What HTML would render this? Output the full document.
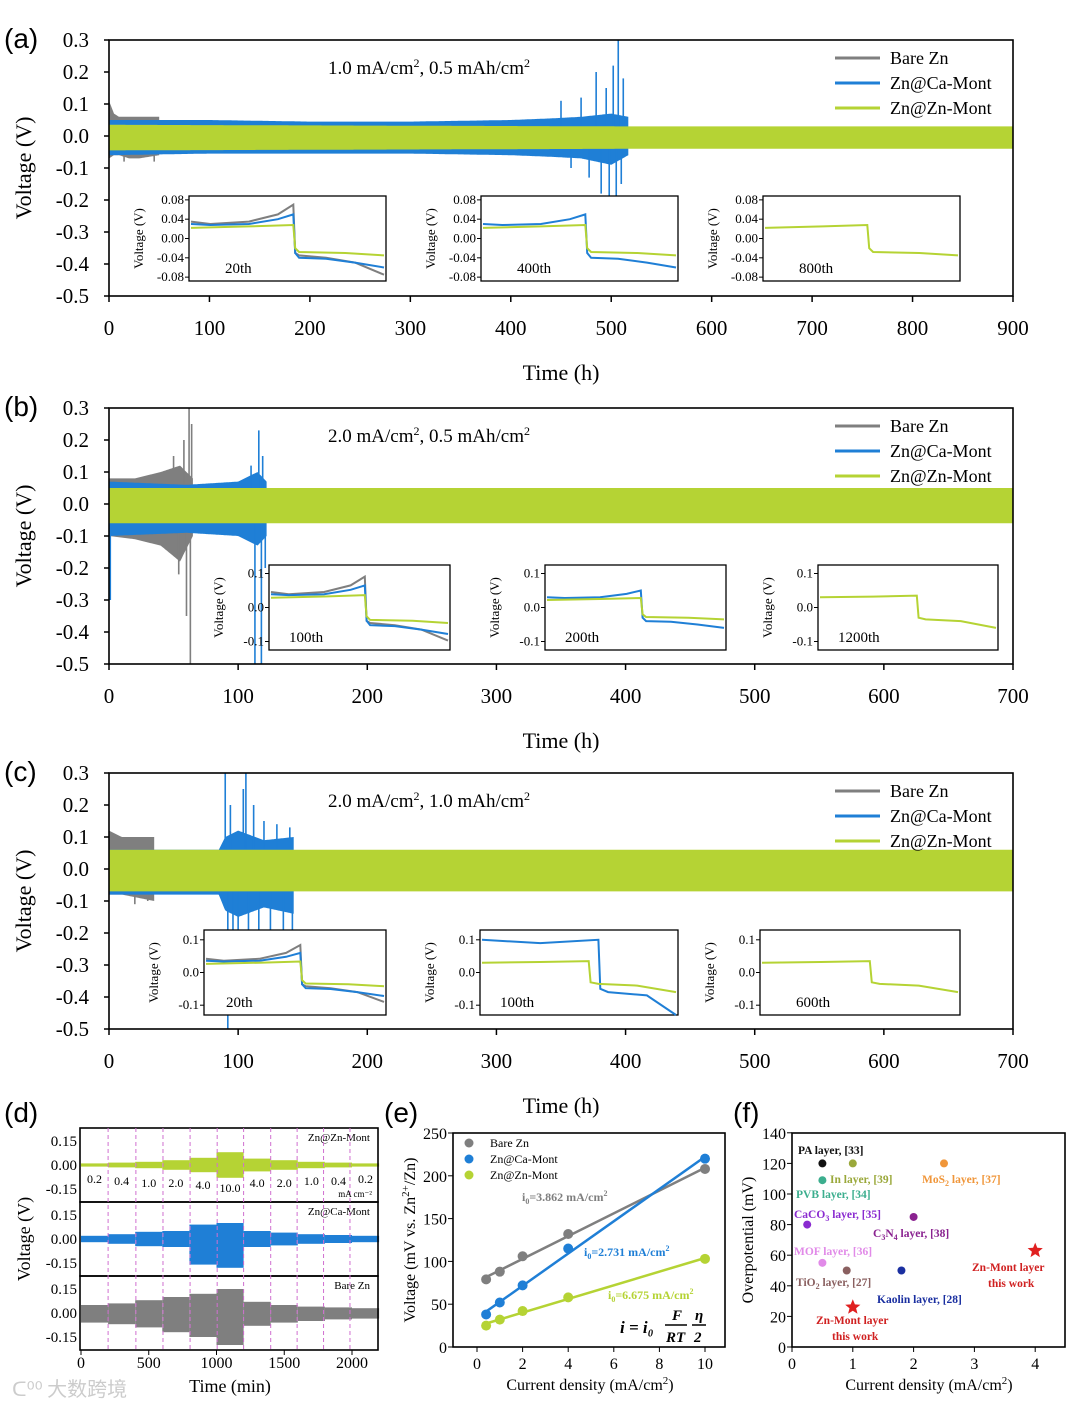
<!DOCTYPE html>
<html><head><meta charset="utf-8">
<style>
body{margin:0;background:#fff;}
svg{display:block;font-family:"Liberation Serif",serif;}
.lab{font-family:"Liberation Sans",sans-serif;font-size:28px;}
</style></head>
<body>
<svg id="fig" width="1080" height="1409" viewBox="0 0 1080 1409" xmlns="http://www.w3.org/2000/svg"></svg>
<script>
// ---------- data ----------
const GRAY='#7f7f7f', BLUE='#1f7fd6', GREEN='#b5d334';
// panel a envelopes (time h, upper V, lower V)
const aGrayT=[0,5,10,20,30,50], aGrayUp=[0.11,0.07,0.06,0.06,0.06,0.06], aGrayLo=[-0.07,-0.06,-0.06,-0.07,-0.07,-0.06];
const aGraySpT=[15,45], aGraySpV=[-0.08,-0.08];
const aBlueT=[0,100,200,300,400,440,470,500,517], aBlueUp=[0.05,0.05,0.045,0.045,0.05,0.055,0.06,0.07,0.06], aBlueLo=[-0.06,-0.055,-0.055,-0.055,-0.06,-0.065,-0.07,-0.09,-0.06];
const aBlueSpT=[450,460,470,478,485,490,495,498,502,505,507,510,512], aBlueSpV=[0.11,-0.1,0.12,-0.13,0.2,-0.18,0.15,-0.25,0.22,-0.2,0.3,-0.15,0.18];
const aGreenT=[0,520,900], aGreenUp=[0.035,0.03,0.03], aGreenLo=[-0.045,-0.04,-0.04];
// panel b
const bGrayT=[0,20,40,55,65], bGrayUp=[0.08,0.08,0.1,0.12,0.08], bGrayLo=[-0.1,-0.11,-0.13,-0.18,-0.1];
const bGraySpT=[50,54,58,60,62,63,64], bGraySpV=[0.15,-0.22,0.2,-0.35,0.3,-0.5,0.25];
const bBlueT=[0,60,100,115,122], bBlueUp=[0.07,0.06,0.07,0.1,0.07], bBlueLo=[-0.1,-0.09,-0.1,-0.13,-0.1];
const bBlueSpT=[1,110,113,116,118,119,121], bBlueSpV=[-0.3,0.12,-0.5,0.23,-0.5,0.15,-0.2];
const bGreenT=[0,700], bGreenUp=[0.05,0.05], bGreenLo=[-0.06,-0.06];
// panel c
const cGrayT=[0,10,35], cGrayUp=[0.12,0.1,0.1], cGrayLo=[-0.08,-0.08,-0.1];
const cGraySpT=[20,30], cGraySpV=[-0.11,-0.1];
const cBlueT=[0,85,90,100,120,143], cBlueUp=[0.06,0.06,0.1,0.12,0.09,0.1], cBlueLo=[-0.08,-0.08,-0.13,-0.15,-0.12,-0.14];
const cBlueSpT=[90,92,94,96,100,104,106,108,112,116,120,125,130,135,140,142], cBlueSpV=[0.3,-0.5,0.2,-0.3,-0.25,0.25,0.3,-0.3,0.2,-0.22,0.15,-0.2,0.14,-0.22,0.13,-0.25];
const cGreenT=[0,700], cGreenUp=[0.06,0.06], cGreenLo=[-0.07,-0.07];
const yTicks=[0.3,0.2,0.1,0.0,-0.1,-0.2,-0.3,-0.4,-0.5];
const yTickLabels=['0.3','0.2','0.1','0.0','-0.1','-0.2','-0.3','-0.4','-0.5'];
// inset curves (fraction of cycle, V)
const insGrayX=[0,0.1,0.3,0.45,0.53,0.54,0.56,0.7,0.85,1], insGrayY=[0.035,0.03,0.035,0.05,0.07,-0.03,-0.035,-0.04,-0.05,-0.075];
const insBlueX=[0,0.1,0.3,0.45,0.53,0.54,0.56,0.7,0.85,1], insBlueY=[0.03,0.028,0.03,0.04,0.05,-0.03,-0.04,-0.042,-0.05,-0.06];
const insGreenX=[0,0.3,0.53,0.54,0.56,0.8,1], insGreenY=[0.022,0.025,0.028,-0.02,-0.028,-0.03,-0.035];
const insB2BlueX=[0,0.3,0.6,0.61,0.65,0.85,1], insB2BlueY=[0.1,0.09,0.1,-0.05,-0.06,-0.07,-0.13];
const insSoloX=[0,0.3,0.55,0.56,0.6,0.8,1], insSoloY=[0.03,0.032,0.035,-0.03,-0.035,-0.04,-0.06];
// panel d
const dBounds=[0,200,400,600,800,1000,1200,1400,1600,1800,2000,2200];
const dCurLabels=['0.2','0.4','1.0','2.0','4.0','10.0','4.0','2.0','1.0','0.4','0.2'];
const dGreenAmp=[0.01,0.015,0.02,0.03,0.045,0.08,0.04,0.03,0.02,0.015,0.01];
const dBlueAmp=[0.02,0.03,0.045,0.05,0.09,0.1,0.05,0.04,0.03,0.025,0.02];
const dBlueLow=[0.02,0.03,0.045,0.05,0.16,0.18,0.05,0.04,0.03,0.025,0.02];
const dGrayAmp=[0.05,0.06,0.08,0.1,0.12,0.15,0.07,0.05,0.04,0.035,0.03];
const dGrayLow=[0.06,0.07,0.09,0.12,0.15,0.2,0.08,0.06,0.05,0.04,0.035];
const dVlines=[200,405,605,805,1005,1200,1400,1595,1790,1985];
// panel e
const eX=[0.4,1,2,4,10];
const eGray=[79,88,106,132,208], eBlue=[38,52,72,115,220], eGreen=[25,32,42,58,103];
// panel f
const fNames=['PA layer, [33]','In layer, [39]','MoS2','PVB layer, [34]','CaCO3','C3N4','MOF layer, [36]','TiO2','Kaolin layer, [28]'];
const fX=[0.5,1,2.5,0.5,0.25,2,0.5,0.9,1.8];
const fY=[120,120,120,109,80,85,55,50,50];
const fColors=['#111','#9aa83a','#f0963a','#3cae8e','#8a2bd0','#8a2290','#e18ae8','#8a6060','#1a2fa0'];
const fStarX=[1,4], fStarY=[26,63];

// ---------- helpers ----------
const NS='http://www.w3.org/2000/svg';
const svg=document.getElementById('fig');
function el(tag,attrs,parent,text){const e=document.createElementNS(NS,tag);for(const k in attrs)e.setAttribute(k,attrs[k]);if(text!==undefined)e.textContent=text;(parent||svg).appendChild(e);return e;}
function interp(T,V,t){if(t<=T[0])return V[0];for(let i=1;i<T.length;i++){if(t<=T[i]){const f=(t-T[i-1])/(T[i]-T[i-1]);return V[i-1]+f*(V[i]-V[i-1]);}}return V[V.length-1];}

function envelope(g,X,Y,T,Up,Lo,color,name){
  let d='';const t0=T[0],t1=T[T.length-1];const n=Math.max(2,Math.round((X(t1)-X(t0))));
  for(let i=0;i<=n;i++){const t=t0+(t1-t0)*i/n;d+=(i?'L':'M')+X(t).toFixed(1)+' '+Y(interp(T,Up,t)).toFixed(1);}
  for(let i=n;i>=0;i--){const t=t0+(t1-t0)*i/n;d+='L'+X(t).toFixed(1)+' '+Y(interp(T,Lo,t)).toFixed(1);}
  const p=el('path',{d:d+'Z',fill:color},g);
  
  
}
function spikes(g,X,Y,T,V,color,name){
  T.forEach((t,i)=>{const l=el('line',{x1:X(t),x2:X(t),y1:Y(0),y2:Y(V[i]),stroke:color,'stroke-width':1.6},g);
    
    });
}
function polyline(g,X,Y,xs,ys,color,w,name){
  const p=el('polyline',{points:xs.map((x,i)=>X(x).toFixed(1)+','+Y(ys[i]).toFixed(1)).join(' '),fill:'none',stroke:color,'stroke-width':w},g);
  
  
}

// ---------- panels a/b/c ----------
function bigPanel(cfg){
  const g=el('g',{});
  
  
  const x0=109,x1=1013,yT=cfg.yTop,yB=cfg.yTop+256;
  const X=t=>x0+(x1-x0)*t/cfg.tmax, Y=v=>yT+(0.3-v)/0.8*256;
  const lbl=el('text',{x:4,y:yT+8,class:'lab'},g,'('+cfg.id+')');
  
  
  const clip=el('clipPath',{id:'clip'+cfg.id},g);el('rect',{x:x0,y:yT,width:x1-x0,height:256},clip);
  const dg=el('g',{'clip-path':'url(#clip'+cfg.id+')'},g);
  cfg.series.forEach(s=>{envelope(dg,X,Y,s.T,s.Up,s.Lo,s.c,s.name+'-trace');if(s.spT)spikes(dg,X,Y,s.spT,s.spV,s.c,s.name+'-spike');});
  el('rect',{x:x0,y:yT,width:x1-x0,height:256,fill:'none',stroke:'#000','stroke-width':1.6},g);
  yTicks.forEach((v,i)=>{el('line',{x1:x0-5,x2:x0,y1:Y(v),y2:Y(v),stroke:'#000','stroke-width':1.5},g);
    const t=el('text',{x:x0-20,y:Y(v)+7,'text-anchor':'end','font-size':21},g,yTickLabels[i]);
    });
  for(let t=0;t<=cfg.tmax;t+=100){el('line',{x1:X(t),x2:X(t),y1:yB,y2:yB+6,stroke:'#000','stroke-width':1.5},g);
    const tx=el('text',{x:X(t),y:yB+39,'text-anchor':'middle','font-size':21},g,String(t));
    }
  const yt=el('text',{transform:`translate(31,${yT+128}) rotate(-90)`,'text-anchor':'middle','font-size':22},g,'Voltage (V)');
  
  const xt=el('text',{x:561,y:yB+84,'text-anchor':'middle','font-size':22},g,'Time (h)');
  
  const cond=el('text',{x:328,y:yT+34,'font-size':19},g);
  
  cond.innerHTML=cfg.cond;
  ['Bare Zn','Zn@Ca-Mont','Zn@Zn-Mont'].forEach((n,i)=>{const ly=yT+18+i*25;
    const l=el('line',{x1:835,x2:880,y1:ly,y2:ly,stroke:[GRAY,BLUE,GREEN][i],'stroke-width':3},g);
    
    const t=el('text',{x:890,y:ly+6,'font-size':18},g,n);
    });
  cfg.insets.forEach(ins=>inset(g,ins,yT+cfg.insTop,cfg.insRange,cfg.insTicks));
}
function inset(parent,ins,top,range,ticks){
  const g=el('g',{fill:'#fff'},parent);
  
  
  const h=85,x0=ins.x0,x1=ins.x1;
  const X=f=>x0+2+(x1-x0-4)*f, Y=v=>top+h/2-v/range*(h/2);
  el('rect',{x:x0,y:top,width:x1-x0,height:h,fill:'#fff',stroke:'#000','stroke-width':1.3},g);
  ins.curves.forEach(c=>polyline(g,X,Y,c.x,c.y,c.c,2,'inset-curve'));
  ticks.forEach(v=>{el('line',{x1:x0-4,x2:x0,y1:Y(v),y2:Y(v),stroke:'#000'},g);
    el('text',{x:x0-5,y:Y(v)+4,'text-anchor':'end','font-size':13,fill:'#000'},g,(range<0.1?v.toFixed(2):v.toFixed(1)));});
  el('text',{transform:`translate(${x0-46},${top+h/2}) rotate(-90)`,'text-anchor':'middle','font-size':13,fill:'#000'},g,'Voltage (V)');
  el('text',{x:x0+ins.lx,y:top+h-8,'font-size':15,fill:'#000'},g,ins.label);
}
bigPanel({id:'a',yTop:40,tmax:900,cond:'1.0 mA/cm<tspan dy="-7" font-size="12">2</tspan><tspan dy="7">, 0.5 mAh/cm</tspan><tspan dy="-7" font-size="12">2</tspan>',
  series:[{T:aGrayT,Up:aGrayUp,Lo:aGrayLo,spT:aGraySpT,spV:aGraySpV,c:GRAY,name:'bare-zn'},{T:aBlueT,Up:aBlueUp,Lo:aBlueLo,spT:aBlueSpT,spV:aBlueSpV,c:BLUE,name:'zn-ca-mont'},{T:aGreenT,Up:aGreenUp,Lo:aGreenLo,c:GREEN,name:'zn-zn-mont'}],
  insTop:156,insRange:0.088,insTicks:[0.08,0.04,0,-0.04,-0.08],
  insets:[{x0:189,x1:386,label:'20th',lx:36,curves:[{x:insGrayX,y:insGrayY,c:GRAY},{x:insBlueX,y:insBlueY,c:BLUE},{x:insGreenX,y:insGreenY,c:GREEN}]},
          {x0:481,x1:678,label:'400th',lx:36,curves:[{x:insBlueX,y:insBlueY,c:BLUE},{x:insGreenX,y:insGreenY,c:GREEN}]},
          {x0:763,x1:960,label:'800th',lx:36,curves:[{x:insGreenX,y:insGreenY,c:GREEN}]}]});
bigPanel({id:'b',yTop:408,tmax:700,cond:'2.0 mA/cm<tspan dy="-7" font-size="12">2</tspan><tspan dy="7">, 0.5 mAh/cm</tspan><tspan dy="-7" font-size="12">2</tspan>',
  series:[{T:bGrayT,Up:bGrayUp,Lo:bGrayLo,spT:bGraySpT,spV:bGraySpV,c:GRAY,name:'bare-zn'},{T:bBlueT,Up:bBlueUp,Lo:bBlueLo,spT:bBlueSpT,spV:bBlueSpV,c:BLUE,name:'zn-ca-mont'},{T:bGreenT,Up:bGreenUp,Lo:bGreenLo,c:GREEN,name:'zn-zn-mont'}],
  insTop:157,insRange:0.125,insTicks:[0.1,0,-0.1],
  insets:[{x0:269,x1:450,label:'100th',lx:20,curves:[{x:insGrayX,y:insGrayY.map(v=>v*1.3),c:GRAY},{x:insBlueX,y:insBlueY.map(v=>v*1.3),c:BLUE},{x:insGreenX,y:insGreenY.map(v=>v*1.3),c:GREEN}]},
          {x0:545,x1:726,label:'200th',lx:20,curves:[{x:insBlueX,y:insBlueY,c:BLUE},{x:insGreenX,y:insGreenY,c:GREEN}]},
          {x0:818,x1:998,label:'1200th',lx:20,curves:[{x:insSoloX,y:insSoloY,c:GREEN}]}]});
bigPanel({id:'c',yTop:773,tmax:700,cond:'2.0 mA/cm<tspan dy="-7" font-size="12">2</tspan><tspan dy="7">, 1.0 mAh/cm</tspan><tspan dy="-7" font-size="12">2</tspan>',
  series:[{T:cGrayT,Up:cGrayUp,Lo:cGrayLo,spT:cGraySpT,spV:cGraySpV,c:GRAY,name:'bare-zn'},{T:cBlueT,Up:cBlueUp,Lo:cBlueLo,spT:cBlueSpT,spV:cBlueSpV,c:BLUE,name:'zn-ca-mont'},{T:cGreenT,Up:cGreenUp,Lo:cGreenLo,c:GREEN,name:'zn-zn-mont'}],
  insTop:157,insRange:0.13,insTicks:[0.1,0,-0.1],
  insets:[{x0:204,x1:386,label:'20th',lx:22,curves:[{x:insGrayX,y:insGrayY.map(v=>v*1.2),c:GRAY},{x:insBlueX,y:insBlueY.map(v=>v*1.2),c:BLUE},{x:insGreenX,y:insGreenY.map(v=>v*1.2),c:GREEN}]},
          {x0:480,x1:678,label:'100th',lx:20,curves:[{x:insB2BlueX,y:insB2BlueY,c:BLUE},{x:insSoloX,y:insSoloY,c:GREEN}]},
          {x0:760,x1:960,label:'600th',lx:36,curves:[{x:insSoloX,y:insSoloY,c:GREEN}]}]});

// ---------- panel d ----------
(function(){
  const g=el('g',{});
  const lb=el('text',{x:4,y:1122,class:'lab'},g,'(d)');
  const x0=80,x1=378,X=t=>81+0.1355*t;
  const subs=[{top:1128,amp:dGreenAmp,low:dGreenAmp,c:GREEN,n:'Zn@Zn-Mont'},{top:1202,amp:dBlueAmp,low:dBlueLow,c:BLUE,n:'Zn@Ca-Mont'},{top:1276,amp:dGrayAmp,low:dGrayLow,c:GRAY,n:'Bare Zn'}];
  subs.forEach((s,k)=>{
    const Y=v=>s.top+37-v*160;
    const sg=el('g',{},g);
    dBounds.slice(0,-1).forEach((b,i)=>{const r=el('rect',{x:X(b),y:Y(s.amp[i]),width:X(dBounds[i+1])-X(b),height:Y(-s.low[i])-Y(s.amp[i]),fill:s.c},sg);
      });
    el('rect',{x:x0,y:s.top,width:x1-x0,height:74,fill:'none',stroke:'#000','stroke-width':1.6},sg);
    [[0.15,'0.15'],[0,'0.00'],[-0.15,'-0.15']].forEach(([v,t])=>{el('text',{x:x0-3,y:Y(v)+5,'text-anchor':'end','font-size':15},sg,t);});
    el('text',{x:x1-8,y:s.top+13,'text-anchor':'end','font-size':11},sg,s.n);
  });
  dVlines.forEach(t=>{const l=el('line',{x1:X(t),x2:X(t),y1:1128,y2:1350,stroke:'#d070d0','stroke-width':1,'stroke-dasharray':'4,3'},g);
    });
  const lys=[1183,1185,1187,1187,1189,1192,1187,1187,1185,1185,1183];
  dCurLabels.forEach((t,i)=>{const x=X((dBounds[i]+dBounds[i+1])/2);el('text',{x:x,y:lys[i],'text-anchor':'middle','font-size':12},g,t);});
  el('text',{x:372,y:1197,'text-anchor':'end','font-size':9},g,'mA cm⁻²');
  [0,500,1000,1500,2000].forEach(t=>{el('line',{x1:X(t),x2:X(t),y1:1350,y2:1355,stroke:'#000'},g);el('text',{x:X(t),y:1368,'text-anchor':'middle','font-size':16},g,String(t));});
  const yt=el('text',{transform:'translate(30,1239) rotate(-90)','text-anchor':'middle','font-size':18},g,'Voltage (V)');
  const xt=el('text',{x:230,y:1392,'text-anchor':'middle','font-size':18},g,'Time (min)');
  const wm=el('text',{x:12,y:1396,'font-family':'"Noto Sans CJK SC",sans-serif','font-size':20,fill:'#ccc'},g,'ᑕ⁰⁰ 大数跨境');
})();

// ---------- panel e ----------
(function(){
  const g=el('g',{});
  const lb=el('text',{x:384,y:1122,class:'lab'},g,'(e)');
  const x0=453,x1=725,yT=1133,yB=1347,X=v=>477+22.8*v,Y=v=>yB-v*0.856;
  const ser=[[eGray,GRAY,'bare-zn'],[eBlue,BLUE,'zn-ca-mont'],[eGreen,GREEN,'zn-zn-mont']];
  ser.forEach(([ys,c,n])=>{const n0=eX.length,mx=eX.reduce((a,b)=>a+b)/n0,my=ys.reduce((a,b)=>a+b)/n0;
    let sxy=0,sxx=0;eX.forEach((x,i)=>{sxy+=(x-mx)*(ys[i]-my);sxx+=(x-mx)**2;});const m=sxy/sxx,b=my-m*mx;
    const l=el('line',{x1:X(eX[0]),y1:Y(m*eX[0]+b),x2:X(10),y2:Y(m*10+b),stroke:c,'stroke-width':2.5},g);
    
    eX.forEach((x,i)=>{const p=el('circle',{cx:X(x),cy:Y(ys[i]),r:5,fill:c},g);
      });});
  el('rect',{x:x0,y:yT,width:x1-x0,height:yB-yT,fill:'none',stroke:'#000','stroke-width':1.6},g);
  [0,50,100,150,200,250].forEach(v=>{el('line',{x1:x0-5,x2:x0,y1:Y(v),y2:Y(v),stroke:'#000'},g);el('text',{x:x0-6,y:Y(v)+6,'text-anchor':'end','font-size':16},g,String(v));});
  [0,2,4,6,8,10].forEach(v=>{el('line',{x1:X(v),x2:X(v),y1:yB,y2:yB+5,stroke:'#000'},g);el('text',{x:X(v),y:yB+22,'text-anchor':'middle','font-size':16},g,String(v));});
  el('text',{transform:'translate(415,1240) rotate(-90)','text-anchor':'middle','font-size':16},g).innerHTML='Voltage (mV vs. Zn<tspan dy="-6" font-size="11">2+</tspan><tspan dy="6">/Zn)</tspan>';
  el('text',{x:590,y:1390,'text-anchor':'middle','font-size':16},g).innerHTML='Current density (mA/cm<tspan dy="-6" font-size="11">2</tspan><tspan dy="6">)</tspan>';
  ['Bare Zn','Zn@Ca-Mont','Zn@Zn-Mont'].forEach((t,i)=>{el('circle',{cx:469,cy:1143+i*16,r:4.5,fill:[GRAY,BLUE,GREEN][i]},g);el('text',{x:490,y:1147+i*16,'font-size':12},g,t);});
  el('text',{x:522,y:1201,'font-size':12,'font-weight':'bold',fill:GRAY},g).innerHTML='i<tspan dy="3" font-size="8">0</tspan><tspan dy="-3">=3.862 mA/cm</tspan><tspan dy="-5" font-size="8">2</tspan>';
  el('text',{x:584,y:1256,'font-size':12,'font-weight':'bold',fill:BLUE},g).innerHTML='i<tspan dy="3" font-size="8">0</tspan><tspan dy="-3">=2.731 mA/cm</tspan><tspan dy="-5" font-size="8">2</tspan>';
  el('text',{x:608,y:1299,'font-size':12,'font-weight':'bold',fill:GREEN},g).innerHTML='i<tspan dy="3" font-size="8">0</tspan><tspan dy="-3">=6.675 mA/cm</tspan><tspan dy="-5" font-size="8">2</tspan>';
  el('text',{x:620,y:1333,'font-size':17,'font-weight':'bold','font-style':'italic'},g,'i = i₀');
  el('text',{x:672,y:1320,'font-size':15,'font-weight':'bold','font-style':'italic'},g,'F');
  el('text',{x:666,y:1342,'font-size':15,'font-weight':'bold','font-style':'italic'},g,'RT');
  el('line',{x1:665,x2:687,y1:1325,y2:1325,stroke:'#000','stroke-width':1.5},g);
  el('text',{x:695,y:1320,'font-size':15,'font-weight':'bold','font-style':'italic'},g,'η');
  el('text',{x:694,y:1342,'font-size':15,'font-weight':'bold','font-style':'italic'},g,'2');
  el('line',{x1:692,x2:706,y1:1325,y2:1325,stroke:'#000','stroke-width':1.5},g);
})();

// ---------- panel f ----------
(function(){
  const g=el('g',{});
  const lb=el('text',{x:733,y:1122,class:'lab'},g,'(f)');
  const x0=792,x1=1065,yT=1133,yB=1347,X=v=>792+60.8*v,Y=v=>yB-v*1.53;
  fX.forEach((x,i)=>{const c=el('circle',{cx:X(x),cy:Y(fY[i]),r:4,fill:fColors[i]},g);
    });
  const star=(cx,cy)=>{let p='';for(let k=0;k<10;k++){const r=k%2?3.5:8,a=-Math.PI/2+k*Math.PI/5;p+=(cx+r*Math.cos(a)).toFixed(1)+','+(cy+r*Math.sin(a)).toFixed(1)+' ';}return p;};
  fStarX.forEach((x,i)=>{const s=el('polygon',{points:star(X(x),Y(fStarY[i])),fill:'#e02020'},g);
    });
  el('rect',{x:x0,y:yT,width:x1-x0,height:yB-yT,fill:'none',stroke:'#000','stroke-width':1.6},g);
  [0,20,40,60,80,100,120,140].forEach(v=>{el('line',{x1:x0-5,x2:x0,y1:Y(v),y2:Y(v),stroke:'#000'},g);el('text',{x:x0-6,y:Y(v)+6,'text-anchor':'end','font-size':16},g,String(v));});
  [0,1,2,3,4].forEach(v=>{el('line',{x1:X(v),x2:X(v),y1:yB,y2:yB+5,stroke:'#000'},g);el('text',{x:X(v),y:yB+22,'text-anchor':'middle','font-size':16},g,String(v));});
  el('text',{transform:'translate(753,1240) rotate(-90)','text-anchor':'middle','font-size':16},g,'Overpotential (mV)');
  el('text',{x:929,y:1390,'text-anchor':'middle','font-size':16},g).innerHTML='Current density (mA/cm<tspan dy="-6" font-size="11">2</tspan><tspan dy="6">)</tspan>';
  const L=(x,y,c,h)=>{el('text',{x:x,y:y,'font-size':11.5,'font-weight':'bold',fill:c},g).innerHTML=h;};
  L(798,1154,'#111','PA layer, [33]');
  L(830,1183,'#9aa83a','In layer, [39]');
  L(922,1183,'#f0963a','MoS<tspan dy="3" font-size="8">2</tspan><tspan dy="-3"> layer, [37]</tspan>');
  L(796,1198,'#3cae8e','PVB layer, [34]');
  L(794,1218,'#8a2bd0','CaCO<tspan dy="3" font-size="8">3</tspan><tspan dy="-3"> layer, [35]</tspan>');
  L(873,1237,'#8a2290','C<tspan dy="3" font-size="8">3</tspan><tspan dy="-3">N</tspan><tspan dy="3" font-size="8">4</tspan><tspan dy="-3"> layer, [38]</tspan>');
  L(794,1255,'#e18ae8','MOF layer, [36]');
  L(796,1286,'#8a6060','TiO<tspan dy="3" font-size="8">2</tspan><tspan dy="-3"> layer, [27]</tspan>');
  L(877,1303,'#1a2fa0','Kaolin layer, [28]');
  L(816,1324,'#d02020','Zn-Mont layer');L(832,1340,'#d02020','this work');
  L(972,1271,'#d02020','Zn-Mont layer');L(988,1287,'#d02020','this work');
})();
</script>
</body></html>
